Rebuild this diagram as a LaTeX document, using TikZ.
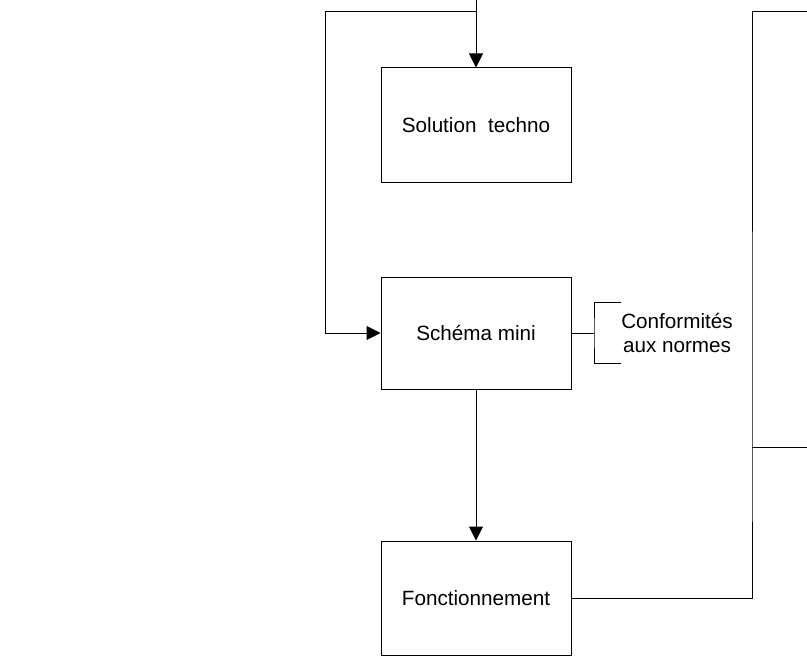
\documentclass[tikz,border=0pt]{standalone}
\usepackage{fontspec}
\setmainfont{Liberation Sans}
\usetikzlibrary{arrows.meta}
\begin{document}
\begin{tikzpicture}[x=0.75pt,y=-0.75pt,
  line width=0.75pt,
  box/.style={draw, rectangle, minimum width=142.5pt, inner sep=0pt,
    font=\fontsize{15.5}{17.6}\selectfont},
  arr/.style={-{Triangle[length=10.5pt,width=10.5pt]}},
  lbl/.style={align=center, inner sep=0pt, font=\fontsize{15.5}{17.6}\selectfont}]
\useasboundingbox (0,0) rectangle (807,663);
\node[box, minimum height=86.25pt] (sol) at (476,125.5) {Solution\ \ techno};
\node[box, minimum height=84pt] (sch) at (476,333) {Schéma mini};
\node[box, minimum height=85.5pt] (fon) at (476,598) {Fonctionnement};
\node[lbl] (conf) at (677,333) {Conformités\\aux normes};
\coordinate (top) at (476,0);
\coordinate (jn) at (476,12);
\coordinate (lc) at (325,12);
\coordinate (rt) at (807,12);
\coordinate (rm) at (807,447);
\coordinate (vb) at (752,447);
\coordinate (bx) at (594,333);
\coordinate (bt) at (621,302);
\coordinate (bb) at (621,363);
\draw[arr] (top) -- (sol.north);
\draw[arr] (jn) -- (lc) |- (sch.west);
\draw[arr] (sch.south) -- (fon.north);
\draw (fon.east) -| (vb) |- (rt);
\draw (vb) -- (rm);
\draw (sch.east) -- (bx);
\draw (bt) -| (bx) |- (bb);
\end{tikzpicture}
\end{document}
